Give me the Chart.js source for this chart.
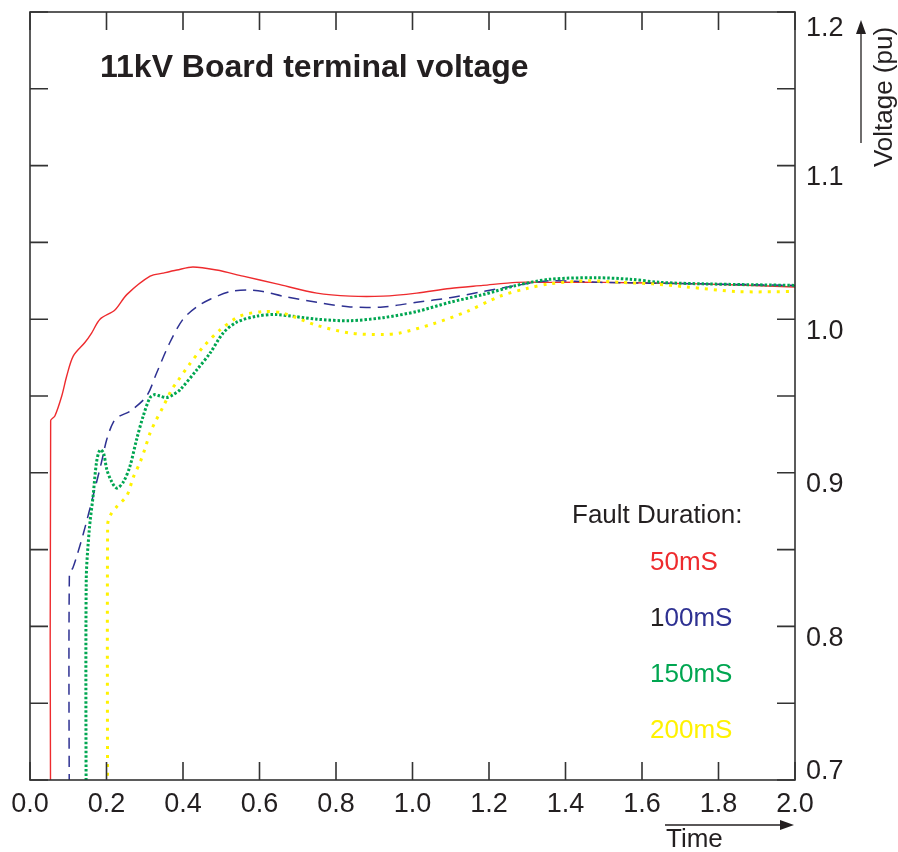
<!DOCTYPE html>
<html>
<head>
<meta charset="utf-8">
<script src="https://cdn.jsdelivr.net/npm/chart.js@4.4.1/dist/chart.umd.min.js"></script>
<style>
  html, body { margin: 0; padding: 0; background: #fff; }
  canvas { display: block; }
</style>
</head>
<body>
<canvas id="voltChart" width="898" height="852"></canvas>
<script>
// values (time in s, voltage in pu)
var t50 = [0.054, 0.054, 0.065, 0.083, 0.096, 0.113, 0.144, 0.161, 0.183, 0.222, 0.253, 0.314, 0.348, 0.384, 0.426, 0.488, 0.557, 0.645, 0.750, 0.837, 0.923, 1.011, 1.098, 1.184, 1.272, 1.359, 1.50, 1.75, 2.0];
var v50 = [0.65, 0.934, 0.937, 0.950, 0.963, 0.976, 0.985, 0.991, 1.000, 1.006, 1.016, 1.028, 1.030, 1.032, 1.034, 1.032, 1.028, 1.023, 1.017, 1.015, 1.015, 1.017, 1.020, 1.022, 1.024, 1.024, 1.024, 1.023, 1.021];

var t100 = [0.103, 0.103, 0.112, 0.139, 0.165, 0.187, 0.201, 0.218, 0.235, 0.261, 0.305, 0.331, 0.366, 0.400, 0.436, 0.471, 0.523, 0.567, 0.609, 0.661, 0.750, 0.837, 0.923, 1.011, 1.098, 1.184, 1.272, 1.359, 1.490, 1.752, 2.0];
var v100 = [0.65, 0.835, 0.838, 0.860, 0.885, 0.907, 0.922, 0.933, 0.937, 0.940, 0.950, 0.965, 0.985, 1.000, 1.008, 1.013, 1.018, 1.019, 1.018, 1.015, 1.011, 1.008, 1.008, 1.011, 1.014, 1.018, 1.022, 1.025, 1.024, 1.023, 1.022];

var t150 = [0.147, 0.147, 0.155, 0.165, 0.174, 0.183, 0.192, 0.201, 0.214, 0.227, 0.244, 0.261, 0.279, 0.296, 0.314, 0.327, 0.340, 0.357, 0.375, 0.392, 0.436, 0.471, 0.505, 0.540, 0.593, 0.645, 0.750, 0.837, 0.923, 1.011, 1.098, 1.184, 1.272, 1.359, 1.482, 1.569, 1.647, 1.760, 2.0];
var v150 = [0.65, 0.830, 0.863, 0.885, 0.907, 0.915, 0.913, 0.902, 0.894, 0.890, 0.894, 0.904, 0.922, 0.937, 0.949, 0.951, 0.950, 0.949, 0.951, 0.954, 0.967, 0.978, 0.991, 0.998, 1.002, 1.003, 1.000, 0.999, 1.001, 1.005, 1.011, 1.016, 1.022, 1.026, 1.027, 1.026, 1.024, 1.023, 1.022];

var t200 = [0.203, 0.203, 0.209, 0.227, 0.253, 0.270, 0.288, 0.301, 0.314, 0.327, 0.348, 0.370, 0.384, 0.418, 0.453, 0.497, 0.549, 0.610, 0.661, 0.750, 0.837, 0.923, 0.967, 1.054, 1.142, 1.229, 1.299, 1.359, 1.455, 1.542, 1.629, 1.717, 1.848, 2.0];
var v200 = [0.65, 0.866, 0.872, 0.878, 0.885, 0.897, 0.907, 0.916, 0.926, 0.933, 0.943, 0.954, 0.959, 0.971, 0.982, 0.993, 1.002, 1.005, 1.004, 0.996, 0.991, 0.990, 0.991, 0.997, 1.005, 1.015, 1.020, 1.023, 1.025, 1.024, 1.023, 1.021, 1.018, 1.018];

var faultLabels = ["50mS", "100mS", "150mS", "200mS"];
var xTickStep = 0.2;
var yTickStep = 0.05;

var RED = "#ee2b2e", BLUE = "#2e3192", GREEN = "#00a651", YELLOW = "#fff200", INK = "#231f20";
var FONT = "Arial, 'Liberation Sans', Helvetica, sans-serif";
var TICK_FONT = 27;

function toPoints(ts, vs){
	var pts = [];
	for(var i = 0; i < ts.length; i++){
		pts.push({x: ts[i], y: vs[i]});
	}
	return pts;
}

// frame, inward ticks, title, legend and axis captions
var decorPlugin = {
	id: "decor",
	afterDraw: function(chart){
		var ctx = chart.ctx, a = chart.chartArea;
		var xs = chart.scales.x, ys = chart.scales.y;
		var tl = 18;
		ctx.save();
		ctx.strokeStyle = "#333";
		ctx.lineWidth = 1.6;
		ctx.strokeRect(a.left, a.top, a.right - a.left, a.bottom - a.top);

		ctx.beginPath();
		ys.ticks.forEach(function(t){
			var py = ys.getPixelForValue(t.value);
			ctx.moveTo(a.left, py); ctx.lineTo(a.left + tl, py);
			ctx.moveTo(a.right, py); ctx.lineTo(a.right - tl, py);
		});
		xs.ticks.forEach(function(t){
			var px = xs.getPixelForValue(t.value);
			ctx.moveTo(px, a.bottom); ctx.lineTo(px, a.bottom - tl);
			ctx.moveTo(px, a.top); ctx.lineTo(px, a.top + tl);
		});
		ctx.stroke();

		ctx.fillStyle = INK;
		ctx.textBaseline = "middle";
		ctx.textAlign = "left";

		// end labels of the voltage axis sit inside the frame height
		ctx.font = TICK_FONT + "px " + FONT;
		ctx.fillText(ys.max.toFixed(1), a.right + 11, ys.getPixelForValue(ys.max) + 17);
		ctx.fillText(ys.min.toFixed(1), a.right + 11, ys.getPixelForValue(ys.min) - 8);

		// title
		ctx.font = "bold 32px " + FONT;
		ctx.fillText("11kV Board terminal voltage", 100, 68);

		// legend
		ctx.font = "26px " + FONT;
		ctx.fillText("Fault Duration:", 572, 516);
		var lx = 650;
		ctx.fillStyle = RED;
		ctx.fillText(faultLabels[0], lx, 563);
		ctx.fillStyle = INK;
		ctx.fillText(faultLabels[1].charAt(0), lx, 619);
		ctx.fillStyle = BLUE;
		ctx.fillText(faultLabels[1].slice(1), lx + ctx.measureText(faultLabels[1].charAt(0)).width, 619);
		ctx.fillStyle = GREEN;
		ctx.fillText(faultLabels[2], lx, 675);
		ctx.fillStyle = YELLOW;
		ctx.fillText(faultLabels[3], lx, 731);

		// axis captions with arrows
		ctx.fillStyle = INK;
		ctx.strokeStyle = INK;
		ctx.lineWidth = 1.3;
		ctx.fillText("Time", 666, 840);
		ctx.beginPath();
		ctx.moveTo(665, 825); ctx.lineTo(786, 825);
		ctx.stroke();
		ctx.beginPath();
		ctx.moveTo(794, 825); ctx.lineTo(780, 820); ctx.lineTo(780, 830); ctx.closePath();
		ctx.fill();

		ctx.beginPath();
		ctx.moveTo(861, 143); ctx.lineTo(861, 28);
		ctx.stroke();
		ctx.beginPath();
		ctx.moveTo(861, 20); ctx.lineTo(856, 34); ctx.lineTo(866, 34); ctx.closePath();
		ctx.fill();

		ctx.translate(885, 97);
		ctx.rotate(-Math.PI / 2);
		ctx.textAlign = "center";
		ctx.fillText("Voltage (pu)", 0, 0);
		ctx.restore();
	}
};

function lineSet(label, ts, vs, color, width, dash){
	return {
		label: label,
		data: toPoints(ts, vs),
		borderColor: color,
		borderWidth: width,
		borderDash: dash,
		pointRadius: 0,
		tension: 0.3,
		fill: false,
		clip: 0
	};
}

var ctx = document.getElementById("voltChart").getContext("2d");
var voltChart = new Chart(ctx, {
	type: "line",
	data: {
		datasets: [
			lineSet(faultLabels[3], t200, v200, YELLOW, 3, [3, 6]),
			lineSet(faultLabels[2], t150, v150, GREEN, 3, [2.5, 2]),
			lineSet(faultLabels[1], t100, v100, BLUE, 1.5, [11, 7]),
			lineSet(faultLabels[0], t50, v50, RED, 1.4, [])
		]
	},
	options: {
		responsive: false,
		animation: false,
		devicePixelRatio: 1,
		layout: { padding: { left: 30, top: 12, right: 0, bottom: 0 } },
		plugins: { legend: { display: false }, tooltip: { enabled: false } },
		scales: {
			x: {
				type: "linear",
				min: 0, max: 2,
				grid: { display: false, drawTicks: false },
				border: { display: false },
				ticks: {
					stepSize: xTickStep,
					padding: 8,
					color: INK,
					font: { family: FONT, size: TICK_FONT },
					maxRotation: 0,
					autoSkip: false,
					callback: function(v){ return v.toFixed(1); }
				},
				afterFit: function(s){ s.height = 72; s.paddingLeft = 0; s.paddingRight = 0; }
			},
			y: {
				type: "linear",
				position: "right",
				min: 0.7, max: 1.2,
				grid: { display: false, drawTicks: false },
				border: { display: false },
				ticks: {
					stepSize: yTickStep,
					padding: 11,
					labelOffset: 12,
					color: INK,
					autoSkip: false,
					font: { family: FONT, size: TICK_FONT },
					callback: function(v){
						var k = Math.round(v * 100);
						// 0.7 and 1.2 are placed by the decor plugin
						if(k === 70 || k === 120) return "";
						return k % 10 === 0 ? (k / 100).toFixed(1) : "";
					}
				},
				afterFit: function(s){ s.width = 103; s.paddingTop = 0; s.paddingBottom = 0; }
			}
		}
	},
	plugins: [decorPlugin]
});
</script>
</body>
</html>
